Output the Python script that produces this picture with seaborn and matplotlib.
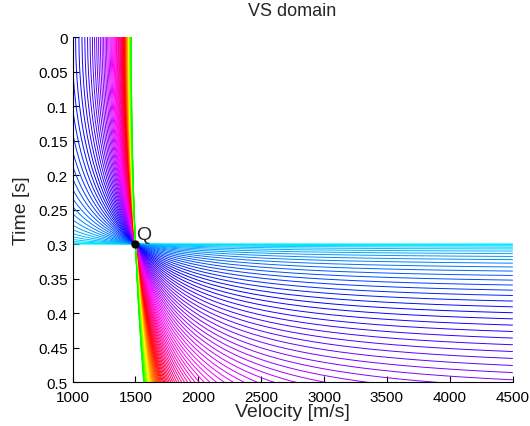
import numpy as np
import pandas as pd
import matplotlib
matplotlib.use("Agg")
import matplotlib.pyplot as plt
import seaborn as sns
from matplotlib.colors import hsv_to_rgb

# point Q in the velocity - zero offset time domain
v_q = 1500.0   # m/s
t_q = 0.3      # s

# trace offsets [m] whose reflection passes through Q
offsets = [21 * k for k in range(101)]

x_ticks = [1000, 1500, 2000, 2500, 3000, 3500, 4000, 4500]
y_ticks = [0, 0.05, 0.1, 0.15, 0.2, 0.25, 0.3, 0.35, 0.4, 0.45, 0.5]
y_tick_labels = ["0", "0.05", "0.1", "0.15", "0.2", "0.25", "0.3", "0.35", "0.4", "0.45", "0.5"]

# build the curves: t0(v) = sqrt(T^2 - x^2/v^2), T^2 = t_q^2 + x^2/v_q^2
vel = np.linspace(1000, 4500, 1500)
rows = []
for x in offsets:
    T2 = t_q**2 + x**2 / v_q**2
    v = vel
    if x > 0:
        v_zero = x / np.sqrt(T2)
        v = np.sort(np.append(vel, v_zero))
        v = v[v >= v_zero - 1e-9]
    t = np.sqrt(np.clip(T2 - x**2 / v**2, 0, None))
    rows.append(pd.DataFrame({"offset": x, "velocity": v, "time": t}))
df = pd.concat(rows, ignore_index=True)

n = len(offsets)
palette = {x: hsv_to_rgb(((0.5 + 0.833 * i / (n - 1)) % 1.0, 1.0, 1.0))
           for i, x in enumerate(offsets)}

sns.set_style("ticks")
plt.rcParams["font.family"] = ["Liberation Sans", "DejaVu Sans"]

fig = plt.figure(figsize=(5.30, 4.27), dpi=100)
ax = fig.add_axes([0.137, 0.103, 0.830, 0.808])

sns.lineplot(data=df, x="velocity", y="time", hue="offset", palette=palette,
             estimator=None, legend=False, linewidth=0.7, ax=ax)

ax.plot([v_q], [t_q], "o", color="black", markersize=5, zorder=5)
ax.text(v_q + 5, t_q - 0.001, "Q", fontsize=14, ha="left", va="bottom")

ax.set_xlim(1000, 4500)
ax.set_ylim(0.5, 0)
ax.set_xticks(x_ticks)
ax.set_xticklabels([str(v) for v in x_ticks])
ax.set_yticks(y_ticks)
ax.set_yticklabels(y_tick_labels)
ax.tick_params(direction="in", labelsize=11, length=4, width=0.8, colors="black")
ax.tick_params(axis="x", pad=6)
for side in ["top", "right"]:
    ax.spines[side].set_visible(False)
for side in ["left", "bottom"]:
    ax.spines[side].set_color("black")
    ax.spines[side].set_linewidth(0.8)

ax.set_xlabel("Velocity [m/s]", fontsize=14, labelpad=-1)
ax.set_ylabel("Time [s]", fontsize=14, labelpad=6)
ax.set_title("VS domain", fontsize=13, pad=16)

fig.savefig("out.png", dpi=100)
